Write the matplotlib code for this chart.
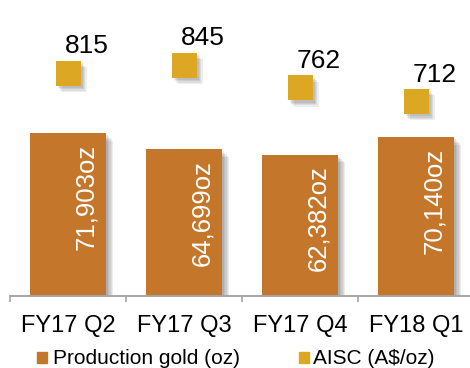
import matplotlib
matplotlib.use("Agg")
import matplotlib.pyplot as plt
import matplotlib.patheffects as pe
from matplotlib.patches import Rectangle

plt.rcParams['font.family'] = ['Liberation Sans', 'DejaVu Sans']

categories = ["FY17 Q2", "FY17 Q3", "FY17 Q4", "FY18 Q1"]
production = [71903, 64699, 62382, 70140]
production_labels = ["71,903oz", "64,699oz", "62,382oz", "70,140oz"]
aisc = [815, 845, 762, 712]
series_names = ["Production gold (oz)", "AISC (A$/oz)"]

bar_color = "#C4762B"
marker_color = "#DCA823"

W, H = 470, 368
fig = plt.figure(figsize=(W / 100, H / 100), dpi=100)
ax = fig.add_axes([10 / W, 72 / H, 464 / W, 296 / H])
ax2 = ax.twinx()

x = list(range(len(categories)))

shadow = [pe.SimplePatchShadow(offset=(d, -d), shadow_rgbFace="black", alpha=0.07)
          for d in (1.5, 2.5, 3.5, 4.5, 5.5)] + [pe.Normal()]

bars = ax.bar(x, production, width=0.65, color=bar_color, zorder=2)
for b in bars:
    b.set_path_effects(shadow)

for i, (v, lab) in enumerate(zip(production, production_labels)):
    ax.annotate(lab, xy=(i, v), xytext=(13.0, -7.5), textcoords="offset points",
                rotation=90, ha="center", va="top", color="white", fontsize=18.5, zorder=3)

ax.set_xlim(-0.5, len(categories) - 0.5)
ax.set_ylim(0, 130570)
ax2.set_ylim(0, 1084)

ax2.plot(x, aisc, linestyle="none", marker="s", markersize=18, color=marker_color,
         markeredgewidth=0,
         path_effects=[pe.SimplePatchShadow(offset=(d, -d), shadow_rgbFace="black", alpha=0.07)
                       for d in (1.5, 2.5, 3.5, 4.5)] + [pe.Normal()])
for i, v in enumerate(aisc):
    ax2.annotate(str(v), xy=(i, v), xytext=(13.7, 14.4), textcoords="offset points",
                 ha="center", va="baseline", fontsize=19, color="black")

for a in (ax, ax2):
    for s in ("top", "right", "left"):
        a.spines[s].set_visible(False)
    a.set_yticks([])
ax2.spines["bottom"].set_visible(False)
ax.spines["bottom"].set_color("#A6A6A6")
ax.spines["bottom"].set_linewidth(1.4)

ax.set_xticks([i - 0.5 for i in range(len(categories) + 1)])
ax.set_xticklabels([])
ax.tick_params(axis="x", which="major", length=4, width=1.2, color="#A6A6A6", direction="out")
ax.set_xticks(x, minor=True)
ax.set_xticklabels(categories, minor=True, fontsize=17, color="black")
ax.tick_params(axis="x", which="minor", length=0, pad=13.5)
ax2.tick_params(axis="x", which="both", length=0)

# legend
fig.add_artist(Rectangle((36.5 / W, (H - 363) / H), 10 / W, 11 / H,
                         transform=fig.transFigure, color=bar_color))
fig.text(53 / W, (H - 364) / H, series_names[0], fontsize=15, va="baseline", ha="left")
fig.add_artist(Rectangle((298.5 / W, (H - 363) / H), 10.5 / W, 11 / H,
                         transform=fig.transFigure, color=marker_color))
fig.text(313 / W, (H - 364) / H, series_names[1], fontsize=15, va="baseline", ha="left")

fig.savefig("out.png", dpi=100)
